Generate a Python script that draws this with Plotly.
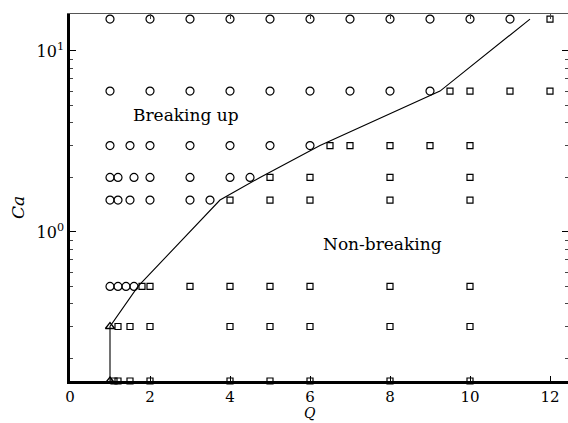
import plotly.graph_objects as go
import numpy as np

# Breaking-up cases (circles)
break_q = [1,2,3,4,5,6,7,8,9,10,11,
           1,2,3,4,5,6,7,8,9,
           1,1.5,2,3,4,5,6,
           1,1.2,1.6,2,3,4,4.5,
           1,1.2,1.5,2,3,3.5,
           1,1.2,1.4,1.6]
break_ca = [15]*11 + [6]*9 + [3]*7 + [2]*7 + [1.5]*6 + [0.5]*4

# Non-breaking cases (squares)
nonbreak_q = [12,
              9.5,10,11,12,
              6.5,7,8,9,10,
              5,6,8,10,
              4,5,6,8,10,
              1.8,2,3,4,5,6,8,10,
              1.2,1.5,2,4,5,6,8,10,
              1.1,1.2,1.5,2,4,5,6,8,10]
nonbreak_ca = [15] + [6]*4 + [3]*5 + [2]*4 + [1.5]*5 + [0.5]*8 + [0.3]*8 + [0.15]*9

# Triangles
tri_q = [1, 1]
tri_ca = [0.3, 0.15]

# Boundary line
line_q = [1, 1, 1.7, 3.75, 4.75, 6.25, 9.25, 11.5]
line_ca = [0.15, 0.3, 0.5, 1.5, 2, 3, 6, 15]

xticks = [0, 2, 4, 6, 8, 10, 12]
yticks = [1, 10]
yticklabels = ["10<sup>0</sup>", "10<sup>1</sup>"]
minor_y = [0.2,0.3,0.4,0.5,0.6,0.7,0.8,0.9,2,3,4,5,6,7,8,9]

FONT = "DejaVu Serif"
yr = [np.log10(0.15), np.log10(16)]
xr = [0, 12.45]

fig = go.Figure()
fig.add_trace(go.Scatter(x=line_q, y=line_ca, mode="lines",
                         line=dict(color="black", width=1.1), showlegend=False, cliponaxis=False))
fig.add_trace(go.Scatter(x=break_q, y=break_ca, mode="markers",
                         marker=dict(symbol="circle-open", size=8, color="black", line=dict(width=1.2)),
                         showlegend=False, cliponaxis=False))
fig.add_trace(go.Scatter(x=nonbreak_q, y=nonbreak_ca, mode="markers",
                         marker=dict(symbol="square-open", size=6, color="black", line=dict(width=1.2)),
                         showlegend=False, cliponaxis=False))
fig.add_trace(go.Scatter(x=tri_q, y=tri_ca, mode="markers",
                         marker=dict(symbol="triangle-up-open", size=8, color="black", line=dict(width=1.3)),
                         showlegend=False, cliponaxis=False))
# dummy traces for mirrored axes
fig.add_trace(go.Scatter(x=[1], y=[1], xaxis="x2", yaxis="y", mode="markers",
                         marker=dict(opacity=0), showlegend=False, hoverinfo="skip"))
fig.add_trace(go.Scatter(x=[1], y=[1], xaxis="x", yaxis="y2", mode="markers",
                         marker=dict(opacity=0), showlegend=False, hoverinfo="skip"))

fig.add_annotation(x=2.9, y=np.log10(4.4), text="Breaking up", showarrow=False,
                   font=dict(family=FONT, size=17, color="black"))
fig.add_annotation(x=7.8, y=np.log10(0.86), text="Non-breaking", showarrow=False,
                   font=dict(family=FONT, size=17, color="black"))
# axis titles
fig.add_annotation(xref="paper", yref="paper", x=(310-70)/498, y=1 - (413-14)/367,
                   text="<i>Q</i>", showarrow=False, xanchor="center", yanchor="middle",
                   borderpad=0, font=dict(family=FONT, size=14, color="black"))
fig.add_annotation(xref="paper", yref="paper", x=-(70-18)/498, y=1 - (208-14)/367,
                   text="<i>Ca</i>", showarrow=False, textangle=-90, xanchor="center", yanchor="middle",
                   font=dict(family=FONT, size=17, color="black"))

fig.update_layout(
    width=568, height=423,
    margin=dict(l=70, r=0, t=14, b=42),
    plot_bgcolor="white", paper_bgcolor="white",
    xaxis=dict(range=xr, tickvals=xticks, ticktext=[str(t) for t in xticks],
               ticks="inside", ticklen=5, tickcolor="black", tickwidth=1,
               showline=True, linecolor="black", linewidth=2.5, showgrid=False, zeroline=False,
               tickfont=dict(family=FONT, size=15, color="black")),
    xaxis2=dict(range=xr, overlaying="x", side="top", tickvals=xticks, showticklabels=False,
                ticks="inside", ticklen=5, tickcolor="#444", tickwidth=1,
                showline=True, linecolor="#555", linewidth=1.3, showgrid=False, zeroline=False),
    yaxis=dict(type="log", range=yr, tickvals=yticks, ticktext=yticklabels,
               ticks="inside", ticklen=6, tickcolor="black", tickwidth=1,
               minor=dict(tickvals=minor_y, ticks="inside", ticklen=3, tickcolor="#444", tickwidth=1, showgrid=False),
               showline=True, linecolor="black", linewidth=2.5, showgrid=False, zeroline=False,
               tickfont=dict(family=FONT, size=16, color="black")),
    yaxis2=dict(type="log", range=yr, overlaying="y", side="right", tickvals=yticks, showticklabels=False,
                ticks="inside", ticklen=6, tickcolor="black", tickwidth=1,
                minor=dict(tickvals=minor_y, ticks="inside", ticklen=3, tickcolor="#444", tickwidth=1, showgrid=False),
                showline=False, showgrid=False, zeroline=False),
)

fig.write_html("out.html")
